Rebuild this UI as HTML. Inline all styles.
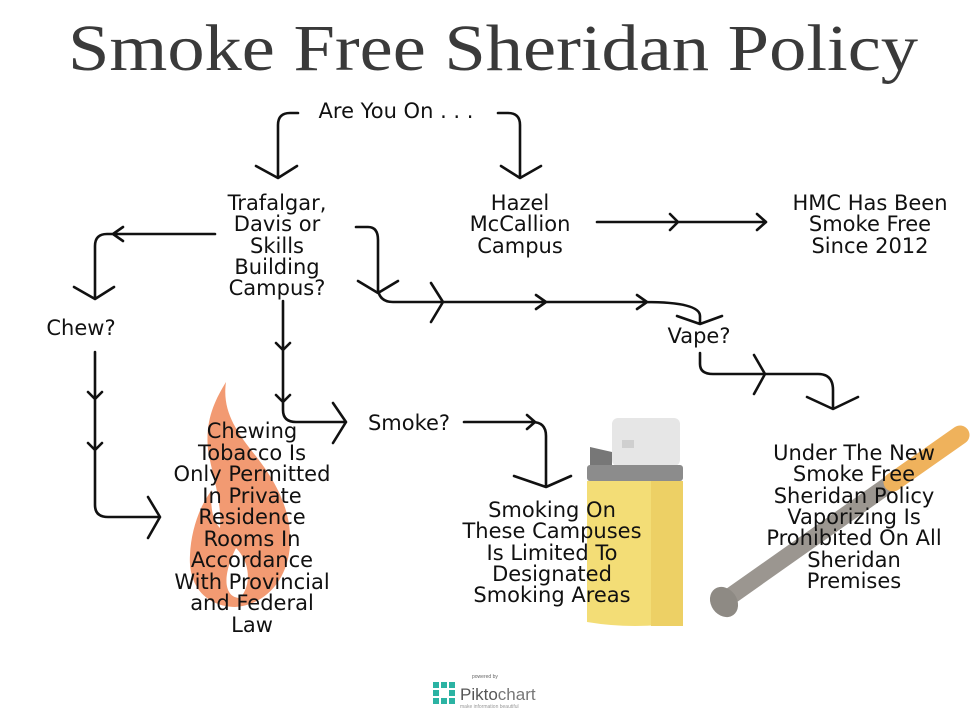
<!DOCTYPE html>
<html><head><meta charset="utf-8"><style>
html,body{margin:0;padding:0;background:#fff;}
svg{display:block;}
.t{font-family:"DejaVu Sans","Liberation Sans",sans-serif;font-size:21px;fill:#111;text-anchor:middle;}
.l{fill:none;stroke:#111;stroke-width:2.6;stroke-linecap:round;stroke-linejoin:round;}
</style></head><body>
<svg width="980" height="715" viewBox="0 0 980 715" xmlns="http://www.w3.org/2000/svg">
<rect width="980" height="715" fill="#fff"/>
<text x="68" y="70" textLength="850" lengthAdjust="spacingAndGlyphs" style="font-family:'Liberation Serif',serif;font-size:66px;fill:#3a3a3a;">Smoke Free Sheridan Policy</text>

<!-- illustrations -->
<path d="M226,382 C222,410 235,430 255,455 C275,480 292,510 290,545 C288,580 265,605 235,607 C205,606 188,585 190,555 C191,530 200,505 212,490 C210,505 212,520 220,528 C222,500 212,475 208,450 C205,420 215,400 226,382 Z" fill="#f29a72"/>
<path d="M236,548 C250,562 252,585 240,598 C226,598 220,580 236,548 Z" fill="#fff"/>
<rect x="612" y="418" width="68" height="48" rx="6" fill="#e6e6e6"/>
<rect x="622" y="440" width="12" height="8" fill="#cfcfcf"/>
<path d="M590,447 L612,452 L612,468 L590,468 Z" fill="#777"/>
<rect x="587" y="465" width="96" height="16" rx="3" fill="#8c8c8c"/>
<path d="M587,481 L683,481 L683,622 Q635,630 587,622 Z" fill="#f3dd76"/>
<rect x="651" y="481" width="32" height="145" fill="#edd065"/>
<line x1="728" y1="598" x2="952" y2="440" stroke="#9b9690" stroke-width="17" stroke-linecap="round"/>
<line x1="893" y1="482" x2="960" y2="435" stroke="#efb25c" stroke-width="19" stroke-linecap="round"/>
<ellipse cx="724" cy="602" rx="13" ry="16" transform="rotate(-35 724 602)" fill="#8e8a84"/>

<!-- connectors -->
<path class="l" d="M298,113 L290,113 Q278,113 278,125 L278,177 M256,166 L278,178 L297,166"/>
<path class="l" d="M498,113 L508,113 Q520,113 520,125 L520,177 M501,166 L520,178 L541,166"/>
<path class="l" d="M597,222 L766,222 M670,214 L678,222 L670,230 M757,214 L766,222 L757,230"/>
<path class="l" d="M215,234 L107,234 Q95,234 95,246 L95,298 M123,227 L113,234 L123,241 M74,287 L95,299 L114,287"/>
<path class="l" d="M356,227 L368,227 Q378,227 378,240 L378,290 Q380,302 393,302 L645,302 Q700,302 700,316 L700,323 M358,281 L378,293 L398,281 M431,283 L443,302 L431,322 M536,295 L546,302 L536,309 M637,295 L647,302 L637,309 M677,316 L700,324 L722,316"/>
<path class="l" d="M700,353 L700,364 Q700,374 713,374 L818,374 Q833,374 833,390 L833,408 M754,355 L765,374 L754,394 M807,397 L833,409 L858,397"/>
<path class="l" d="M283,301 L283,410 Q283,422 296,422 L346,422 M276,343 L283,350 L290,343 M276,395 L283,402 L290,395 M333,403 L346,422 L333,443"/>
<path class="l" d="M464,422 L532,422 Q546,422 546,436 L546,487 M527,415 L535,422 L527,429 M514,476 L546,487 L571,476"/>
<path class="l" d="M95,352 L95,505 Q95,517 108,517 L160,517 M88,392 L95,399 L102,392 M88,443 L95,450 L102,443 M148,497 L160,517 L148,538"/>

<!-- labels -->
<text class="t" x="396" y="118">Are You On . . .</text>
<text class="t" x="277"><tspan x="277" y="210">Trafalgar,</tspan><tspan x="277" y="231">Davis or</tspan><tspan x="277" y="253">Skills</tspan><tspan x="277" y="274">Building</tspan><tspan x="277" y="295">Campus?</tspan></text>
<text class="t"><tspan x="520" y="210">Hazel</tspan><tspan x="520" y="231">McCallion</tspan><tspan x="520" y="253">Campus</tspan></text>
<text class="t"><tspan x="870" y="210">HMC Has Been</tspan><tspan x="870" y="231">Smoke Free</tspan><tspan x="870" y="253">Since 2012</tspan></text>
<text class="t" x="81" y="335">Chew?</text>
<text class="t" x="699" y="343">Vape?</text>
<text class="t" x="409" y="430">Smoke?</text>
<text class="t"><tspan x="252" y="438">Chewing</tspan><tspan x="252" y="460">Tobacco Is</tspan><tspan x="252" y="481">Only Permitted</tspan><tspan x="252" y="503">In Private</tspan><tspan x="252" y="524">Residence</tspan><tspan x="252" y="546">Rooms In</tspan><tspan x="252" y="567">Accordance</tspan><tspan x="252" y="589">With Provincial</tspan><tspan x="252" y="610">and Federal</tspan><tspan x="252" y="632">Law</tspan></text>
<text class="t"><tspan x="552" y="517">Smoking On</tspan><tspan x="552" y="538">These Campuses</tspan><tspan x="552" y="560">Is Limited To</tspan><tspan x="552" y="581">Designated</tspan><tspan x="552" y="602">Smoking Areas</tspan></text>
<text class="t"><tspan x="854" y="460">Under The New</tspan><tspan x="854" y="481">Smoke Free</tspan><tspan x="854" y="503">Sheridan Policy</tspan><tspan x="854" y="524">Vaporizing Is</tspan><tspan x="854" y="545">Prohibited On All</tspan><tspan x="854" y="567">Sheridan</tspan><tspan x="854" y="588">Premises</tspan></text>

<!-- piktochart -->
<text x="472" y="678" style="font-family:'Liberation Sans',sans-serif;font-size:5px;fill:#666;">powered by</text>
<g fill="#2bb3a3">
<rect x="433" y="682" width="6" height="6"/><rect x="441" y="682" width="6" height="6"/><rect x="449" y="682" width="6" height="6"/>
<rect x="433" y="690" width="6" height="6"/><rect x="449" y="690" width="6" height="6"/>
<rect x="433" y="698" width="6" height="6"/><rect x="441" y="698" width="6" height="6"/><rect x="449" y="698" width="6" height="6"/>
</g>
<text x="460" y="700" style="font-family:'Liberation Sans',sans-serif;font-size:17px;fill:#555;">Pikto<tspan style="fill:#777">chart</tspan></text>
<text x="460" y="708" style="font-family:'Liberation Sans',sans-serif;font-size:5px;fill:#999;">make information beautiful</text>
</svg>
</body></html>
